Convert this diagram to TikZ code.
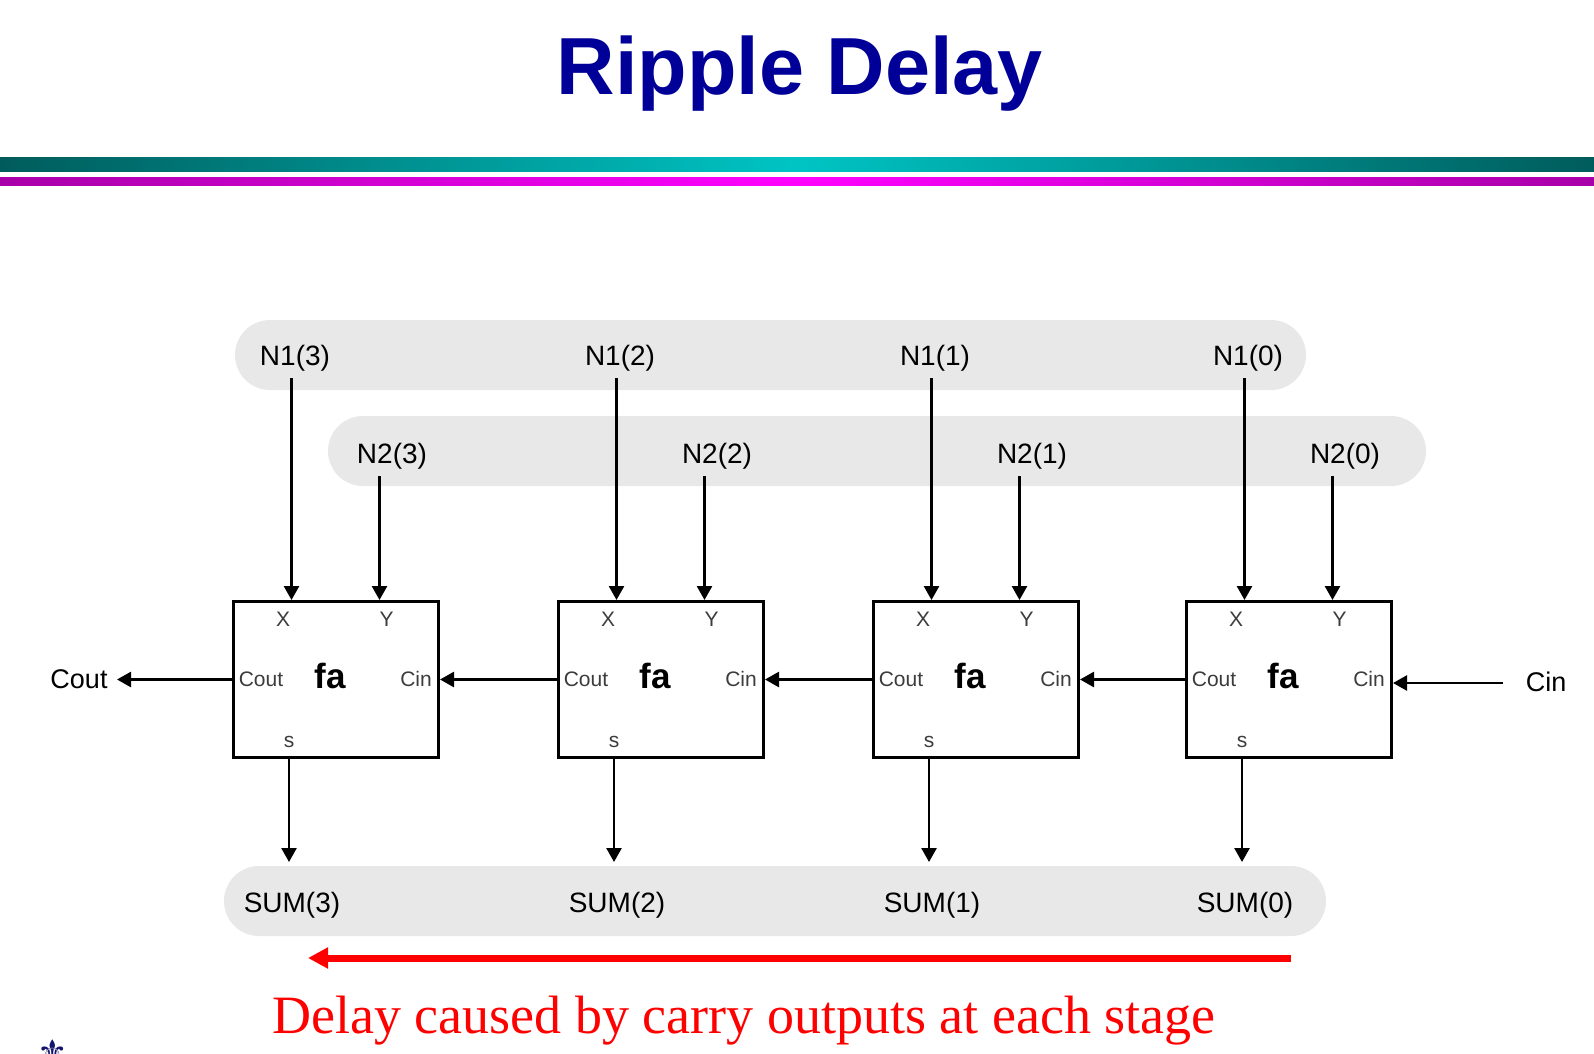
\documentclass[tikz,border=0pt]{standalone}
\usepackage{fontspec}
\setmainfont{Liberation Serif}
\newfontfamily\arial{Liberation Sans}
\newfontfamily\dejavu{DejaVu Sans}
\usetikzlibrary{arrows.meta,calc}
\definecolor{titleblue}{RGB}{0,0,153}
\definecolor{tealdark}{RGB}{0,92,92}
\definecolor{tealmid}{RGB}{0,196,196}
\definecolor{magdark}{RGB}{168,0,168}
\definecolor{magmid}{RGB}{255,0,255}
\definecolor{bandgray}{RGB}{232,232,232}
\definecolor{portgray}{RGB}{60,60,60}
\definecolor{fleur}{RGB}{20,20,110}
\begin{document}
\begin{tikzpicture}[x=1pt,y=-1pt,
  fabox/.style={draw=black,line width=3pt,minimum width=205pt,minimum height=156pt,inner sep=0pt},
  arr/.style={line width=2.6pt,-{Triangle[length=14pt,width=15pt]}},
  sig/.style={font=\arial\fontsize{28}{30}\selectfont,inner xsep=0pt,inner ysep=7pt,anchor=base},
  port/.style={font=\arial\fontsize{21}{23}\selectfont,text=portgray,inner sep=0pt,anchor=base},
  falbl/.style={font=\arial\bfseries\fontsize{35}{36}\selectfont,inner sep=0pt,anchor=base},
  band/.style={fill=bandgray,rounded corners=35pt},
]
\useasboundingbox (0,0) rectangle (1594,1053);

% title
\node[font=\arial\bfseries\fontsize{81}{90}\selectfont,text=titleblue,inner sep=0pt,anchor=base] (title) at (800,94.5) {Ripple Delay};

% header bars
\shade[left color=tealdark,right color=tealdark,middle color=tealmid] (0,157) rectangle (1594,171);
\shade[left color=magdark,right color=magdark,middle color=magmid] (0,177) rectangle (1594,185);

% grey bands
\fill[band] (235,320) rectangle (1306,390);
\fill[band] (328,416) rectangle (1426,486);
\fill[band] (224,866) rectangle (1326,936);

% full adders
\foreach \i/\l in {3/232,2/557,1/872,0/1185}{
  \node[fabox] (b\i) at (\l+104,679.5) {};
  \node[port] (px\i l) at (\l+51,626) {X};
  \node[port] (py\i l) at (\l+154.5,626) {Y};
  \node[port] (pco\i) at (\l+29,686.5) {Cout};
  \node[port] (pci\i) at (\l+184,686) {Cin};
  \node[port] (ps\i l) at (\l+57,747.5) {s};
  \node[falbl] (fa\i) at (\l+98.5,688) {fa};
  \coordinate (px\i) at (\l+59.5,600);
  \coordinate (py\i) at (\l+147.5,600);
  \coordinate (ps\i) at (\l+57,862);
  \node[sig] (n1\i) at (\l+63,365) {N1(\i)};
  \node[sig] (n2\i) at (\l+160,463) {N2(\i)};
  \node[sig] (sum\i) at (\l+60,912.5) {SUM(\i)};
  \draw[arr] (n1\i.south -| px\i) -- (px\i);
  \draw[arr] (n2\i.south -| py\i) -- (py\i);
  \draw[arr] (b\i.south -| ps\i) -- (ps\i);
}

% carry chain
\draw[arr] (b0.west) -- (b1.east);
\draw[arr] (b1.west) -- (b2.east);
\draw[arr] (b2.west) -- (b3.east);

\node[font=\arial\fontsize{27}{29}\selectfont,inner sep=0pt,anchor=base] (cout) at (79,688.5) {Cout};
\coordinate (coutend) at (117,679.5);
\draw[arr] (b3.west) -- (coutend);

\node[font=\arial\fontsize{27}{29}\selectfont,inner sep=0pt,anchor=base] (cin) at (1546,691.5) {Cin};
\coordinate (cinstart) at (1503,683);
\draw[arr] (cinstart) -- (cinstart -| b0.east);

% delay arrow
\coordinate (ra) at (1291,958);
\coordinate (rb) at (308,958);
\draw[line width=7pt,red,-{Triangle[length=20pt,width=20pt]}] (ra) -- (rb);
\node[text=red,font=\fontsize{54}{60}\selectfont,inner sep=0pt,anchor=base] (delay) at (744,1033) {Delay caused by carry outputs at each stage};

% corner emblem (cut off by the lower edge, as in the original)
\node[text=fleur,font=\dejavu\fontsize{34}{36}\selectfont,inner sep=0pt,anchor=north] (emblem) at (52.5,1039) {⚜};
\end{tikzpicture}
\end{document}
